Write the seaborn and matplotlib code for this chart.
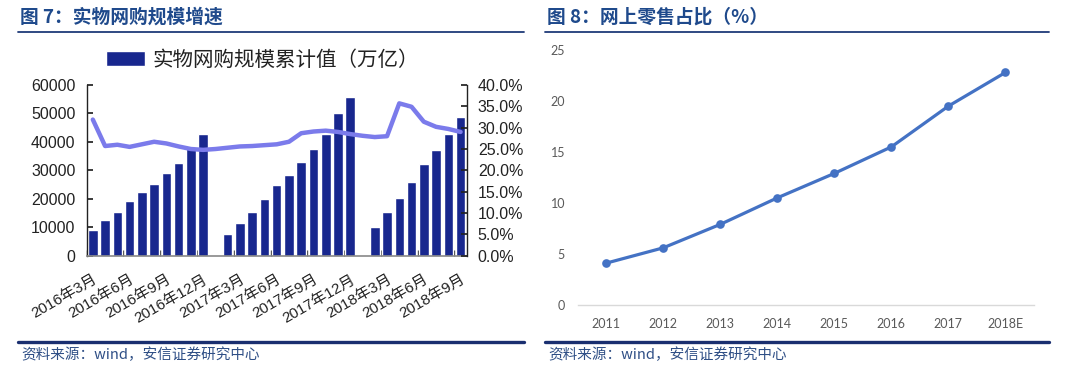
import numpy as np
import pandas as pd
import matplotlib
matplotlib.use("Agg")
import matplotlib.pyplot as plt
import seaborn as sns
from matplotlib.lines import Line2D
from matplotlib.ticker import FixedLocator

sns.set_theme(style="white")
plt.rcParams["font.family"] = ["Noto Sans CJK SC", "DejaVu Sans"]

# ---------------- data: left chart ----------------
months = (["2016年%d月" % m for m in range(3, 13)]
          + ["2017年%d月" % m for m in range(1, 13)]
          + ["2018年%d月" % m for m in range(1, 10)])
scale_values = [9000, 12500, 15500, 19200, 22300, 25100, 29000, 32700, 37700, 42700,
                np.nan,
                7500, 11600, 15500, 19800, 24800, 28400, 33000, 37500, 42700, 50000, 55700,
                np.nan,
                10200, 15500, 20200, 25800, 32100, 37200, 42800, 48900]
growth_pct = [31.9, 25.7, 26.0, 25.5, 26.1, 26.7, 26.3, 25.6, 25.0, 24.8,
              25.0, 25.3, 25.6, 25.7, 25.9, 26.1, 26.7, 28.7, 29.1, 29.3, 29.0, 28.5,
              28.1, 27.8, 28.0, 35.7, 34.9, 31.4, 30.2, 29.7, 29.0]
left_yticks = [0, 10000, 20000, 30000, 40000, 50000, 60000]
right_yticks = [0, 5, 10, 15, 20, 25, 30, 35, 40]
bar_label = "实物网购规模累计值（万亿）"

# ---------------- data: right chart ----------------
years = ["2011", "2012", "2013", "2014", "2015", "2016", "2017", "2018E"]
online_share = [4.1, 5.6, 7.9, 10.5, 12.9, 15.5, 19.5, 22.8]
share_yticks = [0, 5, 10, 15, 20, 25]

title_left = "图 7：实物网购规模增速"
title_right = "图 8：网上零售占比（%）"
source_text = "资料来源：wind，安信证券研究中心"

# ---------------- styles ----------------
BAR_C = "#18278E"
LINE_C = "#7B7BEB"
BLUE_LINE = "#4472C4"
TITLE_C = "#1F4A8C"
NUM_FONT = ["Liberation Sans", "Noto Sans CJK SC", "DejaVu Sans"]

W, H = 1080, 375
fig = plt.figure(figsize=(W / 100, H / 100), dpi=100)
fig.patch.set_facecolor("white")


def fx(px):
    return px / W


def fy(py):
    return 1 - py / H


# ================= left chart =================
axL = fig.add_axes([fx(86.7), fy(255.7), fx(466.7) - fx(86.7), fy(85) - fy(255.7)])
df_left = pd.DataFrame({"month": months, "value": scale_values}).dropna()
sns.barplot(data=df_left, x="month", y="value", order=months, color=BAR_C,
            saturation=1, width=0.78, ax=axL, label=bar_label)
axL.set_xlim(-0.5, len(months) - 0.5)
axL.set_ylim(0, 60000)
axL.yaxis.set_major_locator(FixedLocator(left_yticks))
axL.set_yticklabels([str(v) for v in left_yticks], family=NUM_FONT, fontsize=11.5, color="#222222")
axL.set_xlabel("")
axL.set_ylabel("")
pos = list(range(0, len(months), 3))
axL.set_xticks(pos)
axL.set_xticklabels([months[i] for i in pos], rotation=30, ha="right", va="top",
                    rotation_mode="anchor", family=NUM_FONT, fontsize=11, color="#222222")
axL.set_xticks([p - 0.5 for p in pos], minor=True)
axL.tick_params(axis="x", which="major", length=0, pad=12)
axL.tick_params(axis="x", which="minor", direction="in", length=4, color="#333333", bottom=True)
axL.tick_params(axis="y", direction="in", length=4, color="#222222", left=True, pad=8)
axL.spines["top"].set_visible(False)
axL.spines["left"].set_color("#222222")
axL.spines["left"].set_linewidth(1.0)
axL.spines["right"].set_visible(False)
axL.spines["bottom"].set_color("#888888")
axL.spines["bottom"].set_linewidth(1.2)
axL.grid(False)
if axL.get_legend() is not None:
    axL.get_legend().remove()

axR = axL.twinx()
sns.lineplot(x=np.arange(len(months)), y=growth_pct, color=LINE_C, linewidth=3.2, ax=axR)
axR.set_ylim(0, 40)
axR.yaxis.set_major_locator(FixedLocator(right_yticks))
axR.set_yticklabels(["%.1f%%" % v for v in right_yticks], family=NUM_FONT, fontsize=11.5, color="#222222")
axR.tick_params(axis="y", direction="in", length=4, color="#222222", right=True, pad=8)
axR.spines["top"].set_visible(False)
axR.spines["left"].set_visible(False)
axR.spines["bottom"].set_visible(False)
axR.spines["right"].set_color("#222222")
axR.spines["right"].set_linewidth(1.0)
axR.grid(False)
axR.set_xlim(-0.5, len(months) - 0.5)

handles, labels = axL.get_legend_handles_labels()
fig.legend(handles[:1], [bar_label], loc="center left", bbox_to_anchor=(fx(106), fy(60)),
           frameon=False, fontsize=14.8, handlelength=1.9, handleheight=0.75,
           borderpad=0, borderaxespad=0, handletextpad=0.35,
           labelcolor="#222222")

# ================= right chart =================
ax2 = fig.add_axes([fx(577.5), fy(305), fx(1034) - fx(577.5), fy(50) - fy(305)])
sns.pointplot(x=years, y=online_share, order=years, color=BLUE_LINE, markers="o",
              linestyles="-", markersize=4.5, linewidth=2.3, errorbar=None, ax=ax2)
ax2.set_xlim(-0.5, len(years) - 0.5)
ax2.set_ylim(0, 25)
ax2.yaxis.set_major_locator(FixedLocator(share_yticks))
ax2.set_yticklabels([str(v) for v in share_yticks], family=["Lato", "DejaVu Sans"],
                    fontsize=9, color="#595959")
ax2.set_xticks(range(len(years)))
ax2.set_xticklabels(years, family=["Lato", "DejaVu Sans"], fontsize=9, color="#595959")
ax2.tick_params(axis="both", length=0)
ax2.tick_params(axis="y", pad=9)
ax2.tick_params(axis="x", pad=9)
for s in ["top", "left", "right"]:
    ax2.spines[s].set_visible(False)
ax2.spines["bottom"].set_color("#D9D9D9")
ax2.spines["bottom"].set_linewidth(1.0)
ax2.set_xlabel("")
ax2.set_ylabel("")
ax2.grid(False)
ax2.set_facecolor("none")

# ================= titles, rules, sources =================
for x0, x1, ttl in [(18, 524, title_left), (545, 1049, title_right)]:
    fig.text(fx(x0 + 2), fy(17), ttl, fontsize=13.5, fontweight="bold", color=TITLE_C,
             va="center", ha="left")
    fig.add_artist(Line2D([fx(x0), fx(x1)], [fy(31.5), fy(31.5)], color="#1F3A78", linewidth=1.3))
    fig.add_artist(Line2D([fx(x0), fx(x1)], [fy(341.5), fy(341.5)], color="#1A2F70", linewidth=2.4))
    fig.text(fx(x0 + 3), fy(355), source_text, fontsize=10.5, style="italic", color="#2F4F86",
             va="center", ha="left")

fig.savefig("out.png", dpi=100, facecolor="white")
